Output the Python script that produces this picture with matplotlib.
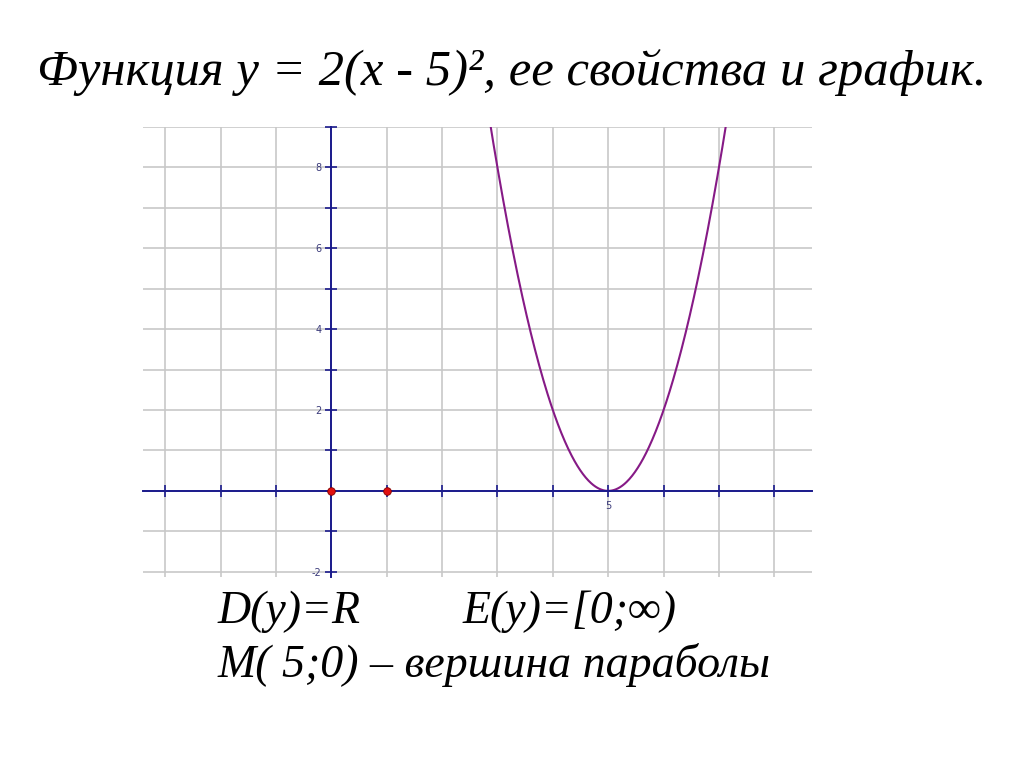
import matplotlib.pyplot as plt
import numpy as np

# Function y = a(x - h)^2
a = 2
h = 5
x_range = (-3.4, 8.68)
y_range = (-2.13, 9)
x_ticks = list(range(-3, 9))
y_ticks = list(range(-2, 10))
x_tick_labels = {5: '5'}
y_tick_labels = {8: '8', 6: '6', 4: '4', 2: '2', -2: '-2'}
point_x = [0, 1]
point_y = [0, 0]

title = 'Функция у = 2(х - 5)², ее свойства и график.'
line1_left = 'D(y)=R'
line1_right = 'E(y)=[0;∞)'
line2 = 'M( 5;0) – вершина параболы'

navy = '#1a1a8c'

fig = plt.figure(figsize=(10.24, 7.67), dpi=100)
ax = fig.add_axes([143 / 1024, 1 - 577 / 767, 669 / 1024, 450 / 767])

xs = np.linspace(2.5, 7.5, 400)
ax.plot(xs, a * (xs - h) ** 2, color='#861a86', lw=1.5, zorder=3)
ax.scatter(point_x, point_y, s=30, color='#e01010', edgecolors='#800000',
           linewidths=0.6, zorder=5, clip_on=False)

ax.set_xlim(*x_range)
ax.set_ylim(*y_range)

ax.set_xticks(x_ticks)
ax.set_yticks(y_ticks)
ax.set_xticklabels([x_tick_labels.get(t, '') for t in x_ticks])
ax.set_yticklabels([y_tick_labels.get(t, '') for t in y_ticks])
ax.grid(True, color='#c8c8c8', lw=1.2, zorder=0)
ax.set_axisbelow(True)

for side in ['top', 'right']:
    ax.spines[side].set_visible(False)
for side in ['left', 'bottom']:
    ax.spines[side].set_position(('data', 0))
    ax.spines[side].set_color(navy)
    ax.spines[side].set_linewidth(1.4)
    ax.spines[side].set_zorder(4)

ax.tick_params(axis='both', direction='inout', length=8, width=1.2,
               color=navy, labelcolor='#3a3a7a', labelsize=7, pad=3)

serif = 'Liberation Serif'
fig.text(0.5, 1 - 73 / 767, title, ha='center', va='center',
         fontfamily=serif, fontstyle='italic', fontsize=36.5)
fig.text(218 / 1024, 1 - 612 / 767, line1_left, ha='left', va='center',
         fontfamily=serif, fontstyle='italic', fontsize=33)
fig.text(463 / 1024, 1 - 612 / 767, line1_right, ha='left', va='center',
         fontfamily=serif, fontstyle='italic', fontsize=33)
fig.text(218 / 1024, 1 - 665 / 767, line2, ha='left', va='center',
         fontfamily=serif, fontstyle='italic', fontsize=33)

plt.savefig('out.png', dpi=100)
